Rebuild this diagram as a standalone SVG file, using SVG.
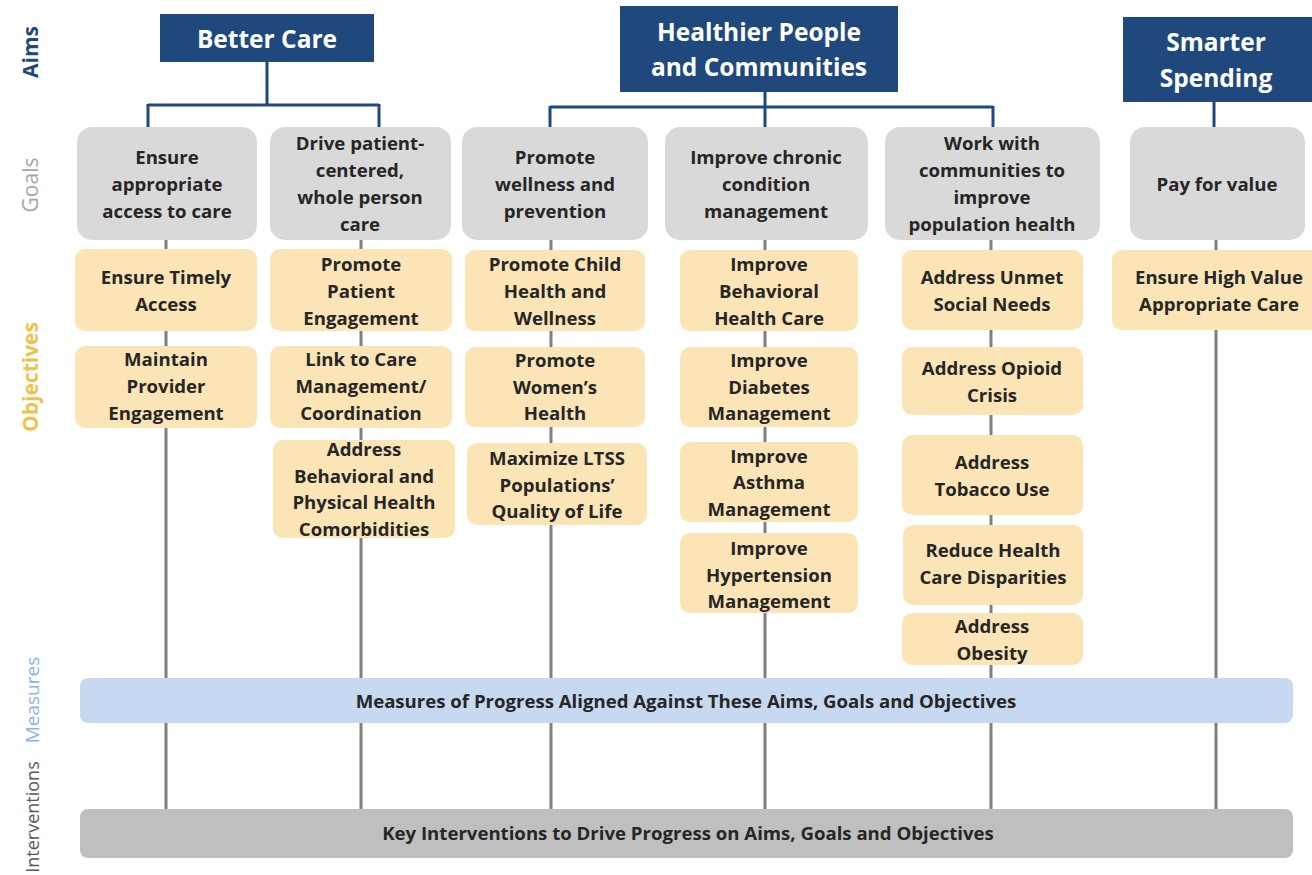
<svg xmlns="http://www.w3.org/2000/svg" width="1312" height="875" viewBox="0 0 1312 875">
<style>
.aim{fill:#1f497d}
.aimt{fill:#ffffff;font-family:"Open Sans","Liberation Sans",sans-serif;font-weight:bold;font-size:24.5px;text-anchor:middle}
.goal{fill:#d9d9d9}
.obj{fill:#fbe5b6}
.t{fill:#262626;font-family:"Open Sans","Liberation Sans",sans-serif;font-weight:bold;font-size:18.6px;text-anchor:middle}
.blue{stroke:#1f497d;stroke-width:3;fill:none}
.gray{stroke:#7f7f7f;stroke-width:3;fill:none}
.side{font-family:"Open Sans","Liberation Sans",sans-serif;font-size:21px;text-anchor:middle}
</style>
<rect width="1312" height="875" fill="#ffffff"/>

<g id="side-labels">
<text class="side" transform="translate(38,52) rotate(-90)" fill="#1f497d" font-weight="bold">Aims</text>
<text class="side" transform="translate(38,185) rotate(-90)" fill="#a6a6a6">Goals</text>
<text class="side" transform="translate(38,377) rotate(-90)" fill="#f0c24b" font-weight="bold">Objectives</text>
<text class="side" transform="translate(39,700) rotate(-90)" fill="#8db3e2" style="font-size:19px">Measures</text>
<text class="side" transform="translate(39,817) rotate(-90)" fill="#595959" style="font-size:18px">Interventions</text>
</g>

<g id="connectors">
<path class="blue" d="M267 62 V105 M148 105 H379 M148 104 V128 M379 104 V128"/>
<path class="blue" d="M765 91 V128 M550 107 H993 M550 106 V128 M993 106 V128"/>
<path class="blue" d="M1214 102 V128"/>
<path class="gray" d="M166 240 V809 M361 240 V809 M551 240 V809 M765 240 V809 M991 240 V809 M1216 240 V809"/>
</g>

<g id="aim-better-care">
<rect class="aim" x="160" y="14" width="214" height="48"/>
<text class="aimt" x="267" y="48">Better Care</text>
</g>
<g id="aim-healthier">
<rect class="aim" x="620" y="6" width="278" height="86"/>
<text class="aimt" x="759" y="41">Healthier People</text>
<text class="aimt" x="759" y="76">and Communities</text>
</g>
<g id="aim-smarter">
<rect class="aim" x="1123" y="17" width="189" height="85"/>
<text class="aimt" x="1216" y="51">Smarter</text>
<text class="aimt" x="1216" y="87">Spending</text>
</g>

<g id="goal-access">
<rect class="goal" x="77" y="127" width="180" height="113" rx="15"/>
<text class="t" x="167" y="164">Ensure</text>
<text class="t" x="167" y="191">appropriate</text>
<text class="t" x="167" y="218">access to care</text>
</g>
<g id="goal-patient">
<rect class="goal" x="270" y="127" width="181" height="113" rx="15"/>
<text class="t" x="360" y="150">Drive patient-</text>
<text class="t" x="360" y="177">centered,</text>
<text class="t" x="360" y="204">whole person</text>
<text class="t" x="360" y="231">care</text>
</g>
<g id="goal-wellness">
<rect class="goal" x="462" y="127" width="186" height="113" rx="15"/>
<text class="t" x="555" y="164">Promote</text>
<text class="t" x="555" y="191">wellness and</text>
<text class="t" x="555" y="218">prevention</text>
</g>
<g id="goal-chronic">
<rect class="goal" x="665" y="127" width="203" height="113" rx="15"/>
<text class="t" x="766" y="164">Improve chronic</text>
<text class="t" x="766" y="191">condition</text>
<text class="t" x="766" y="218">management</text>
</g>
<g id="goal-communities">
<rect class="goal" x="885" y="127" width="215" height="113" rx="15"/>
<text class="t" x="992" y="150">Work with</text>
<text class="t" x="992" y="177">communities to</text>
<text class="t" x="992" y="204">improve</text>
<text class="t" x="992" y="231">population  health</text>
</g>
<g id="goal-value">
<rect class="goal" x="1130" y="127" width="175" height="113" rx="15"/>
<text class="t" x="1217" y="191">Pay for value</text>
</g>

<g id="obj-timely">
<rect class="obj" x="75" y="249" width="182" height="82" rx="10"/>
<text class="t" x="166" y="284">Ensure Timely</text>
<text class="t" x="166" y="311">Access</text>
</g>
<g id="obj-provider">
<rect class="obj" x="75" y="346" width="182" height="82" rx="10"/>
<text class="t" x="166" y="366">Maintain</text>
<text class="t" x="166" y="393">Provider</text>
<text class="t" x="166" y="420">Engagement</text>
</g>
<g id="obj-patient-engagement">
<rect class="obj" x="270" y="249" width="182" height="82" rx="10"/>
<text class="t" x="361" y="271">Promote</text>
<text class="t" x="361" y="298">Patient</text>
<text class="t" x="361" y="325">Engagement</text>
</g>
<g id="obj-care-management">
<rect class="obj" x="270" y="346" width="182" height="82" rx="10"/>
<text class="t" x="361" y="366">Link to Care</text>
<text class="t" x="361" y="393">Management/</text>
<text class="t" x="361" y="420">Coordination</text>
</g>
<g id="obj-comorbidities">
<rect class="obj" x="273" y="440" width="182" height="98" rx="10"/>
<text class="t" x="364" y="456">Address</text>
<text class="t" x="364" y="483">Behavioral and</text>
<text class="t" x="364" y="509">Physical Health</text>
<text class="t" x="364" y="536">Comorbidities</text>
</g>
<g id="obj-child">
<rect class="obj" x="465" y="250" width="180" height="81" rx="10"/>
<text class="t" x="555" y="271">Promote Child</text>
<text class="t" x="555" y="298">Health and</text>
<text class="t" x="555" y="325">Wellness</text>
</g>
<g id="obj-women">
<rect class="obj" x="465" y="347" width="180" height="80" rx="10"/>
<text class="t" x="555" y="367">Promote</text>
<text class="t" x="555" y="394">Women’s</text>
<text class="t" x="555" y="420">Health</text>
</g>
<g id="obj-ltss">
<rect class="obj" x="467" y="443" width="180" height="82" rx="10"/>
<text class="t" x="557" y="465">Maximize LTSS</text>
<text class="t" x="557" y="492">Populations’</text>
<text class="t" x="557" y="518">Quality of Life</text>
</g>
<g id="obj-behavioral">
<rect class="obj" x="680" y="250" width="178" height="81" rx="10"/>
<text class="t" x="769" y="271">Improve</text>
<text class="t" x="769" y="298">Behavioral</text>
<text class="t" x="769" y="325">Health Care</text>
</g>
<g id="obj-diabetes">
<rect class="obj" x="680" y="347" width="178" height="80" rx="10"/>
<text class="t" x="769" y="367">Improve</text>
<text class="t" x="769" y="394">Diabetes</text>
<text class="t" x="769" y="420">Management</text>
</g>
<g id="obj-asthma">
<rect class="obj" x="680" y="442" width="178" height="80" rx="10"/>
<text class="t" x="769" y="463">Improve</text>
<text class="t" x="769" y="489">Asthma</text>
<text class="t" x="769" y="516">Management</text>
</g>
<g id="obj-hypertension">
<rect class="obj" x="680" y="533" width="178" height="80" rx="10"/>
<text class="t" x="769" y="555">Improve</text>
<text class="t" x="769" y="582">Hypertension</text>
<text class="t" x="769" y="608">Management</text>
</g>
<g id="obj-social">
<rect class="obj" x="902" y="250" width="181" height="80" rx="10"/>
<text class="t" x="992" y="284">Address Unmet</text>
<text class="t" x="992" y="311">Social Needs</text>
</g>
<g id="obj-opioid">
<rect class="obj" x="902" y="347" width="181" height="68" rx="10"/>
<text class="t" x="992" y="375">Address Opioid</text>
<text class="t" x="992" y="402">Crisis</text>
</g>
<g id="obj-tobacco">
<rect class="obj" x="902" y="435" width="181" height="80" rx="10"/>
<text class="t" x="992" y="469">Address</text>
<text class="t" x="992" y="496">Tobacco  Use</text>
</g>
<g id="obj-disparities">
<rect class="obj" x="903" y="525" width="180" height="80" rx="10"/>
<text class="t" x="993" y="557">Reduce Health</text>
<text class="t" x="993" y="584">Care Disparities</text>
</g>
<g id="obj-obesity">
<rect class="obj" x="902" y="613" width="181" height="52" rx="10"/>
<text class="t" x="992" y="633">Address</text>
<text class="t" x="992" y="660">Obesity</text>
</g>
<g id="obj-high-value">
<rect class="obj" x="1112" y="250" width="210" height="80" rx="10"/>
<text class="t" x="1219" y="284">Ensure High Value</text>
<text class="t" x="1219" y="311">Appropriate Care</text>
</g>

<g id="measures">
<rect x="80" y="678" width="1213" height="45" rx="8" fill="#c6d9f1"/>
<text class="t" x="686" y="708">Measures of Progress Aligned Against These Aims, Goals and Objectives</text>
</g>
<g id="interventions">
<rect x="80" y="809" width="1213" height="49" rx="8" fill="#bfbfbf"/>
<text class="t" x="688" y="840">Key Interventions to Drive Progress on Aims, Goals and Objectives</text>
</g>
</svg>
